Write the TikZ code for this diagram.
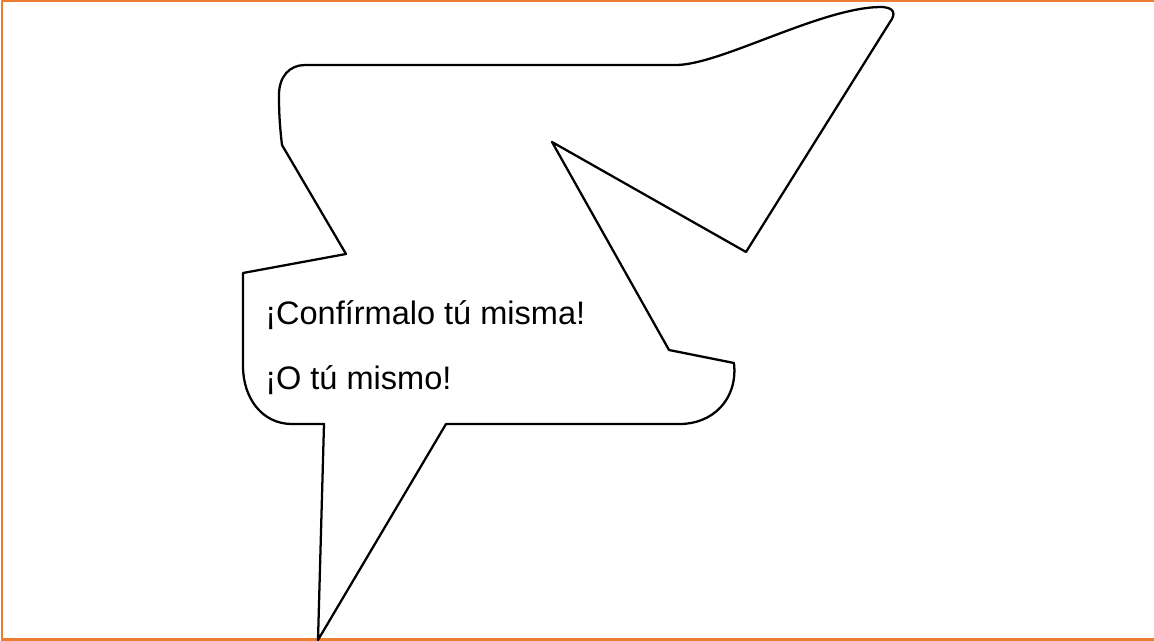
\documentclass[tikz,border=0pt]{standalone}
\usepackage{fontspec}
\setmainfont{Liberation Sans}
\definecolor{frameorange}{RGB}{237,125,49}
\begin{document}
\begin{tikzpicture}[x=0.75pt,y=-0.75pt,line join=round]
  \useasboundingbox (0,0) rectangle (1154,641);
  \draw[frameorange,line width=1.6pt] (2,641) -- (2,1) -- (1156,1);
  \draw[frameorange,line width=1.6pt] (2,639.5) -- (1156,639.5);
  \draw[line width=1.7pt] (305,65) -- (676,65)
        .. controls (720,65) and (820,8) .. (880,7)
        .. controls (895,7) and (896,14) .. (890,22)
        -- (746,252) -- (552,142) -- (669,350) -- (734,363)
        .. controls (738,400) and (712,424) .. (680,424)
        -- (446,424) -- (318,640) -- (324,424) -- (292,424)
        .. controls (262,424) and (243,398) .. (243,366)
        -- (243,273) -- (346,254) -- (282,145)
        .. controls (279,120) and (279,105) .. (279,95)
        .. controls (279,76) and (290,65) .. (305,65) -- cycle;
  \node[anchor=base west,inner sep=0pt,font=\fontsize{24.4}{28}\selectfont] (line1) at (265,325) {¡Confírmalo tú misma!};
  \node[anchor=base west,inner sep=0pt,font=\fontsize{24.4}{28}\selectfont] (line2) at (265,390) {¡O tú mismo!};
\end{tikzpicture}
\end{document}
